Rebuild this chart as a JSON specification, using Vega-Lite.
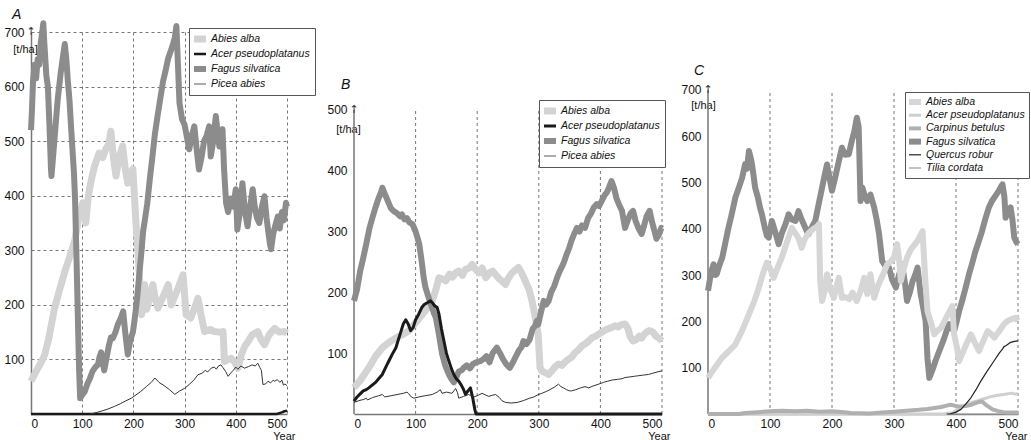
{
  "$schema": "https://vega.github.io/schema/vega-lite/v6.json",
  "background": "white",
  "padding": {"left": 3, "top": 8, "right": 0, "bottom": 0},
  "spacing": 10,
  "resolve": {"scale": {"color": "independent", "x": "independent", "y": "independent"}, "legend": {"color": "independent"}},
  "config": {
    "font": "Liberation Sans",
    "view": {"stroke": null},
    "axis": {"labelFont": "Liberation Sans", "labelFontSize": 12, "labelColor": "#111", "domainColor": "#777", "domainWidth": 1.5, "ticks": false, "gridColor": "#777", "gridDash": [3, 3], "gridWidth": 1, "titleFont": "Liberation Sans", "titleFontSize": 11, "titleFontWeight": "normal", "titleColor": "#111"},
    "legend": {"title": null, "orient": "none", "symbolSize": 144, "fillColor": "white", "strokeColor": "#555", "padding": 5, "labelFont": "Liberation Sans", "labelFontStyle": "italic", "labelFontSize": 10.5, "labelColor": "#111", "labelOffset": 5, "rowPadding": 3},
    "title": {"font": "Liberation Sans", "fontStyle": "italic", "fontWeight": "normal", "fontSize": 14, "anchor": "start", "frame": "group", "color": "#111"}
  },
  "datasets": {
    "grid": [{"g": 100}, {"g": 200}, {"g": 300}, {"g": 400}, {"g": 500}],
    "A": [
      {"s":"Abies alba","t":0,"v":60},{"s":"Abies alba","t":10,"v":78},{"s":"Abies alba","t":20,"v":95},{"s":"Abies alba","t":27,"v":109},{"s":"Abies alba","t":35,"v":140},{"s":"Abies alba","t":46,"v":194},{"s":"Abies alba","t":55,"v":225},{"s":"Abies alba","t":66,"v":261},{"s":"Abies alba","t":79,"v":298},{"s":"Abies alba","t":86,"v":320},{"s":"Abies alba","t":92,"v":353},{"s":"Abies alba","t":94,"v":362},{"s":"Abies alba","t":101,"v":387},{"s":"Abies alba","t":107,"v":350},{"s":"Abies alba","t":112,"v":400},{"s":"Abies alba","t":118,"v":430},{"s":"Abies alba","t":124,"v":454},{"s":"Abies alba","t":133,"v":478},{"s":"Abies alba","t":140,"v":470},{"s":"Abies alba","t":146,"v":485},{"s":"Abies alba","t":152,"v":495},{"s":"Abies alba","t":156,"v":518},{"s":"Abies alba","t":161,"v":470},{"s":"Abies alba","t":166,"v":436},{"s":"Abies alba","t":172,"v":470},{"s":"Abies alba","t":179,"v":491},{"s":"Abies alba","t":184,"v":450},{"s":"Abies alba","t":189,"v":423},{"s":"Abies alba","t":194,"v":440},{"s":"Abies alba","t":199,"v":449},{"s":"Abies alba","t":205,"v":350},{"s":"Abies alba","t":212,"v":252},{"s":"Abies alba","t":214,"v":192},{"s":"Abies alba","t":216,"v":182},{"s":"Abies alba","t":222,"v":237},{"s":"Abies alba","t":226,"v":192},{"s":"Abies alba","t":232,"v":215},{"s":"Abies alba","t":238,"v":237},{"s":"Abies alba","t":243,"v":210},{"s":"Abies alba","t":248,"v":194},{"s":"Abies alba","t":258,"v":215},{"s":"Abies alba","t":268,"v":237},{"s":"Abies alba","t":274,"v":200},{"s":"Abies alba","t":285,"v":225},{"s":"Abies alba","t":297,"v":255},{"s":"Abies alba","t":303,"v":182},{"s":"Abies alba","t":312,"v":176},{"s":"Abies alba","t":320,"v":195},{"s":"Abies alba","t":326,"v":212},{"s":"Abies alba","t":332,"v":182},{"s":"Abies alba","t":339,"v":151},{"s":"Abies alba","t":350,"v":155},{"s":"Abies alba","t":358,"v":151},{"s":"Abies alba","t":368,"v":150},{"s":"Abies alba","t":375,"v":151},{"s":"Abies alba","t":378,"v":96},{"s":"Abies alba","t":385,"v":100},{"s":"Abies alba","t":391,"v":102},{"s":"Abies alba","t":398,"v":95},{"s":"Abies alba","t":404,"v":84},{"s":"Abies alba","t":411,"v":109},{"s":"Abies alba","t":418,"v":125},{"s":"Abies alba","t":424,"v":133},{"s":"Abies alba","t":432,"v":145},{"s":"Abies alba","t":443,"v":151},{"s":"Abies alba","t":450,"v":135},{"s":"Abies alba","t":456,"v":127},{"s":"Abies alba","t":465,"v":145},{"s":"Abies alba","t":476,"v":157},{"s":"Abies alba","t":485,"v":150},{"s":"Abies alba","t":495,"v":151},{"s":"Abies alba","t":500,"v":148},
      {"s":"Fagus silvatica","t":0,"v":520},{"s":"Fagus silvatica","t":2,"v":560},{"s":"Fagus silvatica","t":4,"v":610},{"s":"Fagus silvatica","t":7,"v":640},{"s":"Fagus silvatica","t":10,"v":615},{"s":"Fagus silvatica","t":13,"v":650},{"s":"Fagus silvatica","t":16,"v":640},{"s":"Fagus silvatica","t":19,"v":680},{"s":"Fagus silvatica","t":22,"v":700},{"s":"Fagus silvatica","t":24,"v":716},{"s":"Fagus silvatica","t":26,"v":680},{"s":"Fagus silvatica","t":28,"v":650},{"s":"Fagus silvatica","t":30,"v":620},{"s":"Fagus silvatica","t":33,"v":600},{"s":"Fagus silvatica","t":36,"v":530},{"s":"Fagus silvatica","t":39,"v":450},{"s":"Fagus silvatica","t":40,"v":436},{"s":"Fagus silvatica","t":43,"v":470},{"s":"Fagus silvatica","t":46,"v":505},{"s":"Fagus silvatica","t":49,"v":540},{"s":"Fagus silvatica","t":52,"v":575},{"s":"Fagus silvatica","t":55,"v":600},{"s":"Fagus silvatica","t":58,"v":625},{"s":"Fagus silvatica","t":61,"v":645},{"s":"Fagus silvatica","t":64,"v":665},{"s":"Fagus silvatica","t":66,"v":678},{"s":"Fagus silvatica","t":69,"v":650},{"s":"Fagus silvatica","t":72,"v":610},{"s":"Fagus silvatica","t":75,"v":577},{"s":"Fagus silvatica","t":78,"v":530},{"s":"Fagus silvatica","t":81,"v":485},{"s":"Fagus silvatica","t":84,"v":440},{"s":"Fagus silvatica","t":86,"v":395},{"s":"Fagus silvatica","t":88,"v":320},{"s":"Fagus silvatica","t":90,"v":240},{"s":"Fagus silvatica","t":92,"v":157},{"s":"Fagus silvatica","t":94,"v":80},{"s":"Fagus silvatica","t":96,"v":29},{"s":"Fagus silvatica","t":100,"v":35},{"s":"Fagus silvatica","t":105,"v":41},{"s":"Fagus silvatica","t":110,"v":55},{"s":"Fagus silvatica","t":115,"v":65},{"s":"Fagus silvatica","t":120,"v":78},{"s":"Fagus silvatica","t":125,"v":85},{"s":"Fagus silvatica","t":131,"v":91},{"s":"Fagus silvatica","t":134,"v":105},{"s":"Fagus silvatica","t":137,"v":113},{"s":"Fagus silvatica","t":140,"v":95},{"s":"Fagus silvatica","t":143,"v":80},{"s":"Fagus silvatica","t":147,"v":100},{"s":"Fagus silvatica","t":152,"v":125},{"s":"Fagus silvatica","t":156,"v":140},{"s":"Fagus silvatica","t":160,"v":139},{"s":"Fagus silvatica","t":165,"v":150},{"s":"Fagus silvatica","t":170,"v":165},{"s":"Fagus silvatica","t":175,"v":175},{"s":"Fagus silvatica","t":180,"v":188},{"s":"Fagus silvatica","t":184,"v":150},{"s":"Fagus silvatica","t":189,"v":109},{"s":"Fagus silvatica","t":194,"v":135},{"s":"Fagus silvatica","t":199,"v":150},{"s":"Fagus silvatica","t":202,"v":170},{"s":"Fagus silvatica","t":207,"v":210},{"s":"Fagus silvatica","t":212,"v":261},{"s":"Fagus silvatica","t":216,"v":300},{"s":"Fagus silvatica","t":219,"v":335},{"s":"Fagus silvatica","t":222,"v":353},{"s":"Fagus silvatica","t":227,"v":385},{"s":"Fagus silvatica","t":232,"v":430},{"s":"Fagus silvatica","t":237,"v":470},{"s":"Fagus silvatica","t":242,"v":513},{"s":"Fagus silvatica","t":247,"v":545},{"s":"Fagus silvatica","t":252,"v":575},{"s":"Fagus silvatica","t":258,"v":610},{"s":"Fagus silvatica","t":263,"v":630},{"s":"Fagus silvatica","t":268,"v":652},{"s":"Fagus silvatica","t":273,"v":665},{"s":"Fagus silvatica","t":278,"v":680},{"s":"Fagus silvatica","t":281,"v":690},{"s":"Fagus silvatica","t":284,"v":711},{"s":"Fagus silvatica","t":287,"v":640},{"s":"Fagus silvatica","t":290,"v":570},{"s":"Fagus silvatica","t":295,"v":540},{"s":"Fagus silvatica","t":300,"v":530},{"s":"Fagus silvatica","t":305,"v":505},{"s":"Fagus silvatica","t":309,"v":485},{"s":"Fagus silvatica","t":314,"v":510},{"s":"Fagus silvatica","t":319,"v":527},{"s":"Fagus silvatica","t":323,"v":490},{"s":"Fagus silvatica","t":328,"v":448},{"s":"Fagus silvatica","t":333,"v":470},{"s":"Fagus silvatica","t":338,"v":500},{"s":"Fagus silvatica","t":343,"v":510},{"s":"Fagus silvatica","t":348,"v":527},{"s":"Fagus silvatica","t":351,"v":472},{"s":"Fagus silvatica","t":356,"v":500},{"s":"Fagus silvatica","t":361,"v":546},{"s":"Fagus silvatica","t":365,"v":510},{"s":"Fagus silvatica","t":368,"v":490},{"s":"Fagus silvatica","t":371,"v":505},{"s":"Fagus silvatica","t":374,"v":522},{"s":"Fagus silvatica","t":377,"v":450},{"s":"Fagus silvatica","t":381,"v":387},{"s":"Fagus silvatica","t":385,"v":370},{"s":"Fagus silvatica","t":390,"v":395},{"s":"Fagus silvatica","t":395,"v":380},{"s":"Fagus silvatica","t":400,"v":412},{"s":"Fagus silvatica","t":403,"v":338},{"s":"Fagus silvatica","t":408,"v":370},{"s":"Fagus silvatica","t":413,"v":423},{"s":"Fagus silvatica","t":418,"v":370},{"s":"Fagus silvatica","t":423,"v":344},{"s":"Fagus silvatica","t":428,"v":380},{"s":"Fagus silvatica","t":433,"v":412},{"s":"Fagus silvatica","t":437,"v":380},{"s":"Fagus silvatica","t":441,"v":360},{"s":"Fagus silvatica","t":446,"v":350},{"s":"Fagus silvatica","t":451,"v":380},{"s":"Fagus silvatica","t":456,"v":399},{"s":"Fagus silvatica","t":460,"v":360},{"s":"Fagus silvatica","t":464,"v":330},{"s":"Fagus silvatica","t":467,"v":310},{"s":"Fagus silvatica","t":469,"v":302},{"s":"Fagus silvatica","t":473,"v":330},{"s":"Fagus silvatica","t":477,"v":345},{"s":"Fagus silvatica","t":482,"v":362},{"s":"Fagus silvatica","t":486,"v":340},{"s":"Fagus silvatica","t":490,"v":370},{"s":"Fagus silvatica","t":494,"v":355},{"s":"Fagus silvatica","t":498,"v":387},{"s":"Fagus silvatica","t":500,"v":380},
      {"s":"Acer pseudoplatanus","t":0,"v":0},{"s":"Acer pseudoplatanus","t":480,"v":0},{"s":"Acer pseudoplatanus","t":490,"v":3},{"s":"Acer pseudoplatanus","t":495,"v":5},{"s":"Acer pseudoplatanus","t":500,"v":6},
      {"s":"Picea abies","t":115,"v":0},{"s":"Picea abies","t":125,"v":2},{"s":"Picea abies","t":140,"v":6},{"s":"Picea abies","t":150,"v":9},{"s":"Picea abies","t":163,"v":14},{"s":"Picea abies","t":175,"v":19},{"s":"Picea abies","t":185,"v":24},{"s":"Picea abies","t":196,"v":29},{"s":"Picea abies","t":205,"v":35},{"s":"Picea abies","t":214,"v":41},{"s":"Picea abies","t":225,"v":50},{"s":"Picea abies","t":235,"v":58},{"s":"Picea abies","t":242,"v":66},{"s":"Picea abies","t":250,"v":58},{"s":"Picea abies","t":260,"v":52},{"s":"Picea abies","t":270,"v":45},{"s":"Picea abies","t":281,"v":36},{"s":"Picea abies","t":290,"v":42},{"s":"Picea abies","t":300,"v":47},{"s":"Picea abies","t":310,"v":55},{"s":"Picea abies","t":318,"v":62},{"s":"Picea abies","t":326,"v":72},{"s":"Picea abies","t":335,"v":75},{"s":"Picea abies","t":340,"v":80},{"s":"Picea abies","t":345,"v":77},{"s":"Picea abies","t":352,"v":84},{"s":"Picea abies","t":358,"v":86},{"s":"Picea abies","t":362,"v":82},{"s":"Picea abies","t":366,"v":88},{"s":"Picea abies","t":371,"v":90},{"s":"Picea abies","t":375,"v":85},{"s":"Picea abies","t":380,"v":78},{"s":"Picea abies","t":385,"v":69},{"s":"Picea abies","t":390,"v":75},{"s":"Picea abies","t":395,"v":80},{"s":"Picea abies","t":400,"v":86},{"s":"Picea abies","t":404,"v":82},{"s":"Picea abies","t":410,"v":88},{"s":"Picea abies","t":417,"v":84},{"s":"Picea abies","t":425,"v":87},{"s":"Picea abies","t":432,"v":90},{"s":"Picea abies","t":438,"v":88},{"s":"Picea abies","t":443,"v":93},{"s":"Picea abies","t":447,"v":85},{"s":"Picea abies","t":450,"v":80},{"s":"Picea abies","t":453,"v":54},{"s":"Picea abies","t":458,"v":55},{"s":"Picea abies","t":463,"v":60},{"s":"Picea abies","t":468,"v":57},{"s":"Picea abies","t":473,"v":62},{"s":"Picea abies","t":476,"v":60},{"s":"Picea abies","t":481,"v":63},{"s":"Picea abies","t":486,"v":58},{"s":"Picea abies","t":490,"v":62},{"s":"Picea abies","t":493,"v":53},{"s":"Picea abies","t":496,"v":55},{"s":"Picea abies","t":500,"v":52}
    ],
    "B": [
      {"s":"Abies alba","t":0,"v":43},{"s":"Abies alba","t":10,"v":55},{"s":"Abies alba","t":24,"v":76},{"s":"Abies alba","t":35,"v":95},{"s":"Abies alba","t":46,"v":109},{"s":"Abies alba","t":57,"v":118},{"s":"Abies alba","t":68,"v":125},{"s":"Abies alba","t":78,"v":130},{"s":"Abies alba","t":89,"v":137},{"s":"Abies alba","t":100,"v":150},{"s":"Abies alba","t":111,"v":164},{"s":"Abies alba","t":120,"v":175},{"s":"Abies alba","t":127,"v":186},{"s":"Abies alba","t":133,"v":205},{"s":"Abies alba","t":138,"v":224},{"s":"Abies alba","t":143,"v":222},{"s":"Abies alba","t":149,"v":219},{"s":"Abies alba","t":155,"v":230},{"s":"Abies alba","t":160,"v":225},{"s":"Abies alba","t":165,"v":232},{"s":"Abies alba","t":170,"v":235},{"s":"Abies alba","t":176,"v":228},{"s":"Abies alba","t":181,"v":238},{"s":"Abies alba","t":187,"v":240},{"s":"Abies alba","t":192,"v":246},{"s":"Abies alba","t":197,"v":238},{"s":"Abies alba","t":203,"v":232},{"s":"Abies alba","t":208,"v":240},{"s":"Abies alba","t":214,"v":224},{"s":"Abies alba","t":220,"v":232},{"s":"Abies alba","t":225,"v":235},{"s":"Abies alba","t":230,"v":229},{"s":"Abies alba","t":236,"v":222},{"s":"Abies alba","t":241,"v":218},{"s":"Abies alba","t":246,"v":213},{"s":"Abies alba","t":250,"v":222},{"s":"Abies alba","t":255,"v":230},{"s":"Abies alba","t":261,"v":236},{"s":"Abies alba","t":267,"v":241},{"s":"Abies alba","t":272,"v":232},{"s":"Abies alba","t":278,"v":219},{"s":"Abies alba","t":284,"v":205},{"s":"Abies alba","t":289,"v":186},{"s":"Abies alba","t":294,"v":160},{"s":"Abies alba","t":299,"v":131},{"s":"Abies alba","t":302,"v":76},{"s":"Abies alba","t":306,"v":70},{"s":"Abies alba","t":311,"v":68},{"s":"Abies alba","t":316,"v":65},{"s":"Abies alba","t":322,"v":72},{"s":"Abies alba","t":327,"v":78},{"s":"Abies alba","t":332,"v":82},{"s":"Abies alba","t":338,"v":80},{"s":"Abies alba","t":343,"v":86},{"s":"Abies alba","t":348,"v":90},{"s":"Abies alba","t":353,"v":93},{"s":"Abies alba","t":358,"v":100},{"s":"Abies alba","t":364,"v":105},{"s":"Abies alba","t":370,"v":112},{"s":"Abies alba","t":375,"v":115},{"s":"Abies alba","t":381,"v":120},{"s":"Abies alba","t":386,"v":125},{"s":"Abies alba","t":392,"v":128},{"s":"Abies alba","t":397,"v":131},{"s":"Abies alba","t":403,"v":135},{"s":"Abies alba","t":408,"v":138},{"s":"Abies alba","t":413,"v":140},{"s":"Abies alba","t":418,"v":142},{"s":"Abies alba","t":424,"v":145},{"s":"Abies alba","t":429,"v":143},{"s":"Abies alba","t":434,"v":147},{"s":"Abies alba","t":440,"v":148},{"s":"Abies alba","t":445,"v":140},{"s":"Abies alba","t":448,"v":128},{"s":"Abies alba","t":453,"v":120},{"s":"Abies alba","t":458,"v":122},{"s":"Abies alba","t":463,"v":128},{"s":"Abies alba","t":467,"v":125},{"s":"Abies alba","t":472,"v":132},{"s":"Abies alba","t":477,"v":136},{"s":"Abies alba","t":480,"v":137},{"s":"Abies alba","t":485,"v":135},{"s":"Abies alba","t":490,"v":128},{"s":"Abies alba","t":495,"v":125},{"s":"Abies alba","t":500,"v":120},
      {"s":"Fagus silvatica","t":0,"v":186},{"s":"Fagus silvatica","t":5,"v":205},{"s":"Fagus silvatica","t":10,"v":235},{"s":"Fagus silvatica","t":14,"v":252},{"s":"Fagus silvatica","t":20,"v":280},{"s":"Fagus silvatica","t":25,"v":305},{"s":"Fagus silvatica","t":30,"v":323},{"s":"Fagus silvatica","t":35,"v":340},{"s":"Fagus silvatica","t":40,"v":355},{"s":"Fagus silvatica","t":44,"v":365},{"s":"Fagus silvatica","t":46,"v":372},{"s":"Fagus silvatica","t":50,"v":362},{"s":"Fagus silvatica","t":55,"v":350},{"s":"Fagus silvatica","t":60,"v":338},{"s":"Fagus silvatica","t":65,"v":333},{"s":"Fagus silvatica","t":70,"v":330},{"s":"Fagus silvatica","t":75,"v":325},{"s":"Fagus silvatica","t":78,"v":328},{"s":"Fagus silvatica","t":82,"v":320},{"s":"Fagus silvatica","t":86,"v":322},{"s":"Fagus silvatica","t":90,"v":315},{"s":"Fagus silvatica","t":95,"v":312},{"s":"Fagus silvatica","t":100,"v":300},{"s":"Fagus silvatica","t":103,"v":290},{"s":"Fagus silvatica","t":106,"v":279},{"s":"Fagus silvatica","t":110,"v":250},{"s":"Fagus silvatica","t":113,"v":225},{"s":"Fagus silvatica","t":116,"v":208},{"s":"Fagus silvatica","t":120,"v":195},{"s":"Fagus silvatica","t":125,"v":180},{"s":"Fagus silvatica","t":130,"v":165},{"s":"Fagus silvatica","t":133,"v":158},{"s":"Fagus silvatica","t":138,"v":130},{"s":"Fagus silvatica","t":143,"v":99},{"s":"Fagus silvatica","t":148,"v":80},{"s":"Fagus silvatica","t":154,"v":65},{"s":"Fagus silvatica","t":158,"v":58},{"s":"Fagus silvatica","t":162,"v":52},{"s":"Fagus silvatica","t":166,"v":60},{"s":"Fagus silvatica","t":170,"v":70},{"s":"Fagus silvatica","t":175,"v":72},{"s":"Fagus silvatica","t":178,"v":76},{"s":"Fagus silvatica","t":183,"v":80},{"s":"Fagus silvatica","t":188,"v":75},{"s":"Fagus silvatica","t":193,"v":82},{"s":"Fagus silvatica","t":198,"v":85},{"s":"Fagus silvatica","t":205,"v":87},{"s":"Fagus silvatica","t":210,"v":90},{"s":"Fagus silvatica","t":215,"v":95},{"s":"Fagus silvatica","t":220,"v":85},{"s":"Fagus silvatica","t":225,"v":100},{"s":"Fagus silvatica","t":232,"v":109},{"s":"Fagus silvatica","t":237,"v":100},{"s":"Fagus silvatica","t":242,"v":90},{"s":"Fagus silvatica","t":247,"v":82},{"s":"Fagus silvatica","t":253,"v":76},{"s":"Fagus silvatica","t":258,"v":85},{"s":"Fagus silvatica","t":263,"v":95},{"s":"Fagus silvatica","t":268,"v":105},{"s":"Fagus silvatica","t":272,"v":110},{"s":"Fagus silvatica","t":275,"v":120},{"s":"Fagus silvatica","t":280,"v":115},{"s":"Fagus silvatica","t":285,"v":122},{"s":"Fagus silvatica","t":290,"v":140},{"s":"Fagus silvatica","t":294,"v":145},{"s":"Fagus silvatica","t":297,"v":153},{"s":"Fagus silvatica","t":299,"v":147},{"s":"Fagus silvatica","t":303,"v":165},{"s":"Fagus silvatica","t":308,"v":186},{"s":"Fagus silvatica","t":312,"v":180},{"s":"Fagus silvatica","t":316,"v":186},{"s":"Fagus silvatica","t":320,"v":200},{"s":"Fagus silvatica","t":325,"v":210},{"s":"Fagus silvatica","t":330,"v":225},{"s":"Fagus silvatica","t":334,"v":235},{"s":"Fagus silvatica","t":337,"v":241},{"s":"Fagus silvatica","t":341,"v":250},{"s":"Fagus silvatica","t":345,"v":262},{"s":"Fagus silvatica","t":349,"v":272},{"s":"Fagus silvatica","t":353,"v":285},{"s":"Fagus silvatica","t":357,"v":295},{"s":"Fagus silvatica","t":362,"v":306},{"s":"Fagus silvatica","t":366,"v":300},{"s":"Fagus silvatica","t":370,"v":310},{"s":"Fagus silvatica","t":375,"v":306},{"s":"Fagus silvatica","t":380,"v":322},{"s":"Fagus silvatica","t":385,"v":330},{"s":"Fagus silvatica","t":389,"v":339},{"s":"Fagus silvatica","t":394,"v":345},{"s":"Fagus silvatica","t":398,"v":342},{"s":"Fagus silvatica","t":402,"v":350},{"s":"Fagus silvatica","t":407,"v":360},{"s":"Fagus silvatica","t":411,"v":365},{"s":"Fagus silvatica","t":415,"v":375},{"s":"Fagus silvatica","t":418,"v":383},{"s":"Fagus silvatica","t":422,"v":372},{"s":"Fagus silvatica","t":426,"v":355},{"s":"Fagus silvatica","t":430,"v":345},{"s":"Fagus silvatica","t":435,"v":334},{"s":"Fagus silvatica","t":440,"v":306},{"s":"Fagus silvatica","t":445,"v":320},{"s":"Fagus silvatica","t":449,"v":330},{"s":"Fagus silvatica","t":453,"v":334},{"s":"Fagus silvatica","t":457,"v":318},{"s":"Fagus silvatica","t":462,"v":305},{"s":"Fagus silvatica","t":467,"v":296},{"s":"Fagus silvatica","t":471,"v":310},{"s":"Fagus silvatica","t":475,"v":325},{"s":"Fagus silvatica","t":480,"v":334},{"s":"Fagus silvatica","t":484,"v":315},{"s":"Fagus silvatica","t":488,"v":300},{"s":"Fagus silvatica","t":491,"v":288},{"s":"Fagus silvatica","t":495,"v":295},{"s":"Fagus silvatica","t":499,"v":306},{"s":"Fagus silvatica","t":500,"v":305},
      {"s":"Acer pseudoplatanus","t":0,"v":21},{"s":"Acer pseudoplatanus","t":5,"v":28},{"s":"Acer pseudoplatanus","t":10,"v":33},{"s":"Acer pseudoplatanus","t":15,"v":38},{"s":"Acer pseudoplatanus","t":20,"v":40},{"s":"Acer pseudoplatanus","t":24,"v":43},{"s":"Acer pseudoplatanus","t":30,"v":48},{"s":"Acer pseudoplatanus","t":35,"v":52},{"s":"Acer pseudoplatanus","t":40,"v":58},{"s":"Acer pseudoplatanus","t":46,"v":65},{"s":"Acer pseudoplatanus","t":52,"v":78},{"s":"Acer pseudoplatanus","t":57,"v":88},{"s":"Acer pseudoplatanus","t":62,"v":98},{"s":"Acer pseudoplatanus","t":68,"v":109},{"s":"Acer pseudoplatanus","t":72,"v":122},{"s":"Acer pseudoplatanus","t":76,"v":135},{"s":"Acer pseudoplatanus","t":80,"v":148},{"s":"Acer pseudoplatanus","t":84,"v":155},{"s":"Acer pseudoplatanus","t":88,"v":148},{"s":"Acer pseudoplatanus","t":92,"v":137},{"s":"Acer pseudoplatanus","t":96,"v":142},{"s":"Acer pseudoplatanus","t":100,"v":155},{"s":"Acer pseudoplatanus","t":105,"v":164},{"s":"Acer pseudoplatanus","t":110,"v":175},{"s":"Acer pseudoplatanus","t":114,"v":180},{"s":"Acer pseudoplatanus","t":119,"v":183},{"s":"Acer pseudoplatanus","t":124,"v":186},{"s":"Acer pseudoplatanus","t":128,"v":182},{"s":"Acer pseudoplatanus","t":131,"v":178},{"s":"Acer pseudoplatanus","t":135,"v":175},{"s":"Acer pseudoplatanus","t":138,"v":164},{"s":"Acer pseudoplatanus","t":142,"v":140},{"s":"Acer pseudoplatanus","t":146,"v":120},{"s":"Acer pseudoplatanus","t":150,"v":100},{"s":"Acer pseudoplatanus","t":154,"v":87},{"s":"Acer pseudoplatanus","t":158,"v":75},{"s":"Acer pseudoplatanus","t":162,"v":65},{"s":"Acer pseudoplatanus","t":166,"v":58},{"s":"Acer pseudoplatanus","t":170,"v":54},{"s":"Acer pseudoplatanus","t":174,"v":48},{"s":"Acer pseudoplatanus","t":178,"v":40},{"s":"Acer pseudoplatanus","t":181,"v":32},{"s":"Acer pseudoplatanus","t":185,"v":38},{"s":"Acer pseudoplatanus","t":189,"v":43},{"s":"Acer pseudoplatanus","t":193,"v":25},{"s":"Acer pseudoplatanus","t":196,"v":8},{"s":"Acer pseudoplatanus","t":198,"v":0},{"s":"Acer pseudoplatanus","t":500,"v":0},
      {"s":"Picea abies","t":0,"v":19},{"s":"Picea abies","t":8,"v":22},{"s":"Picea abies","t":16,"v":24},{"s":"Picea abies","t":20,"v":26},{"s":"Picea abies","t":22,"v":23},{"s":"Picea abies","t":30,"v":27},{"s":"Picea abies","t":40,"v":30},{"s":"Picea abies","t":46,"v":32},{"s":"Picea abies","t":50,"v":28},{"s":"Picea abies","t":60,"v":30},{"s":"Picea abies","t":70,"v":32},{"s":"Picea abies","t":80,"v":34},{"s":"Picea abies","t":86,"v":36},{"s":"Picea abies","t":89,"v":33},{"s":"Picea abies","t":93,"v":28},{"s":"Picea abies","t":97,"v":26},{"s":"Picea abies","t":105,"v":28},{"s":"Picea abies","t":115,"v":30},{"s":"Picea abies","t":127,"v":32},{"s":"Picea abies","t":135,"v":36},{"s":"Picea abies","t":140,"v":40},{"s":"Picea abies","t":143,"v":34},{"s":"Picea abies","t":150,"v":36},{"s":"Picea abies","t":159,"v":34},{"s":"Picea abies","t":165,"v":42},{"s":"Picea abies","t":168,"v":35},{"s":"Picea abies","t":170,"v":26},{"s":"Picea abies","t":178,"v":29},{"s":"Picea abies","t":186,"v":32},{"s":"Picea abies","t":195,"v":28},{"s":"Picea abies","t":202,"v":31},{"s":"Picea abies","t":208,"v":34},{"s":"Picea abies","t":214,"v":31},{"s":"Picea abies","t":219,"v":29},{"s":"Picea abies","t":225,"v":31},{"s":"Picea abies","t":230,"v":32},{"s":"Picea abies","t":236,"v":27},{"s":"Picea abies","t":240,"v":22},{"s":"Picea abies","t":246,"v":19},{"s":"Picea abies","t":255,"v":18},{"s":"Picea abies","t":265,"v":19},{"s":"Picea abies","t":275,"v":22},{"s":"Picea abies","t":285,"v":26},{"s":"Picea abies","t":292,"v":28},{"s":"Picea abies","t":299,"v":32},{"s":"Picea abies","t":305,"v":34},{"s":"Picea abies","t":312,"v":37},{"s":"Picea abies","t":318,"v":40},{"s":"Picea abies","t":325,"v":44},{"s":"Picea abies","t":332,"v":49},{"s":"Picea abies","t":336,"v":45},{"s":"Picea abies","t":340,"v":43},{"s":"Picea abies","t":345,"v":40},{"s":"Picea abies","t":350,"v":38},{"s":"Picea abies","t":353,"v":38},{"s":"Picea abies","t":360,"v":40},{"s":"Picea abies","t":368,"v":43},{"s":"Picea abies","t":375,"v":45},{"s":"Picea abies","t":381,"v":43},{"s":"Picea abies","t":388,"v":46},{"s":"Picea abies","t":397,"v":49},{"s":"Picea abies","t":405,"v":52},{"s":"Picea abies","t":412,"v":54},{"s":"Picea abies","t":420,"v":56},{"s":"Picea abies","t":428,"v":57},{"s":"Picea abies","t":435,"v":58},{"s":"Picea abies","t":440,"v":60},{"s":"Picea abies","t":448,"v":61},{"s":"Picea abies","t":455,"v":62},{"s":"Picea abies","t":462,"v":63},{"s":"Picea abies","t":470,"v":64},{"s":"Picea abies","t":478,"v":65},{"s":"Picea abies","t":485,"v":67},{"s":"Picea abies","t":492,"v":69},{"s":"Picea abies","t":500,"v":71}
    ],
    "C": [
      {"s":"Fagus silvatica","t":0,"v":266},{"s":"Fagus silvatica","t":3,"v":290},{"s":"Fagus silvatica","t":6,"v":310},{"s":"Fagus silvatica","t":9,"v":323},{"s":"Fagus silvatica","t":12,"v":300},{"s":"Fagus silvatica","t":14,"v":302},{"s":"Fagus silvatica","t":18,"v":320},{"s":"Fagus silvatica","t":23,"v":338},{"s":"Fagus silvatica","t":28,"v":370},{"s":"Fagus silvatica","t":33,"v":402},{"s":"Fagus silvatica","t":38,"v":430},{"s":"Fagus silvatica","t":44,"v":467},{"s":"Fagus silvatica","t":50,"v":490},{"s":"Fagus silvatica","t":55,"v":510},{"s":"Fagus silvatica","t":60,"v":540},{"s":"Fagus silvatica","t":63,"v":530},{"s":"Fagus silvatica","t":66,"v":568},{"s":"Fagus silvatica","t":70,"v":547},{"s":"Fagus silvatica","t":73,"v":520},{"s":"Fagus silvatica","t":76,"v":489},{"s":"Fagus silvatica","t":80,"v":470},{"s":"Fagus silvatica","t":84,"v":445},{"s":"Fagus silvatica","t":87,"v":431},{"s":"Fagus silvatica","t":92,"v":400},{"s":"Fagus silvatica","t":95,"v":385},{"s":"Fagus silvatica","t":98,"v":381},{"s":"Fagus silvatica","t":103,"v":417},{"s":"Fagus silvatica","t":108,"v":395},{"s":"Fagus silvatica","t":114,"v":367},{"s":"Fagus silvatica","t":119,"v":390},{"s":"Fagus silvatica","t":125,"v":410},{"s":"Fagus silvatica","t":130,"v":431},{"s":"Fagus silvatica","t":135,"v":420},{"s":"Fagus silvatica","t":141,"v":417},{"s":"Fagus silvatica","t":146,"v":438},{"s":"Fagus silvatica","t":151,"v":420},{"s":"Fagus silvatica","t":157,"v":402},{"s":"Fagus silvatica","t":162,"v":388},{"s":"Fagus silvatica","t":168,"v":405},{"s":"Fagus silvatica","t":173,"v":417},{"s":"Fagus silvatica","t":178,"v":450},{"s":"Fagus silvatica","t":184,"v":489},{"s":"Fagus silvatica","t":188,"v":515},{"s":"Fagus silvatica","t":192,"v":539},{"s":"Fagus silvatica","t":196,"v":510},{"s":"Fagus silvatica","t":200,"v":482},{"s":"Fagus silvatica","t":205,"v":510},{"s":"Fagus silvatica","t":211,"v":546},{"s":"Fagus silvatica","t":216,"v":575},{"s":"Fagus silvatica","t":221,"v":560},{"s":"Fagus silvatica","t":227,"v":561},{"s":"Fagus silvatica","t":232,"v":590},{"s":"Fagus silvatica","t":236,"v":610},{"s":"Fagus silvatica","t":240,"v":640},{"s":"Fagus silvatica","t":243,"v":620},{"s":"Fagus silvatica","t":246,"v":460},{"s":"Fagus silvatica","t":249,"v":489},{"s":"Fagus silvatica","t":253,"v":470},{"s":"Fagus silvatica","t":257,"v":460},{"s":"Fagus silvatica","t":262,"v":474},{"s":"Fagus silvatica","t":268,"v":446},{"s":"Fagus silvatica","t":272,"v":420},{"s":"Fagus silvatica","t":276,"v":388},{"s":"Fagus silvatica","t":281,"v":330},{"s":"Fagus silvatica","t":286,"v":320},{"s":"Fagus silvatica","t":292,"v":316},{"s":"Fagus silvatica","t":297,"v":290},{"s":"Fagus silvatica","t":303,"v":273},{"s":"Fagus silvatica","t":308,"v":300},{"s":"Fagus silvatica","t":313,"v":323},{"s":"Fagus silvatica","t":318,"v":280},{"s":"Fagus silvatica","t":321,"v":244},{"s":"Fagus silvatica","t":326,"v":265},{"s":"Fagus silvatica","t":330,"v":287},{"s":"Fagus silvatica","t":334,"v":300},{"s":"Fagus silvatica","t":338,"v":316},{"s":"Fagus silvatica","t":343,"v":259},{"s":"Fagus silvatica","t":347,"v":230},{"s":"Fagus silvatica","t":351,"v":201},{"s":"Fagus silvatica","t":354,"v":120},{"s":"Fagus silvatica","t":357,"v":78},{"s":"Fagus silvatica","t":362,"v":95},{"s":"Fagus silvatica","t":367,"v":115},{"s":"Fagus silvatica","t":373,"v":136},{"s":"Fagus silvatica","t":380,"v":160},{"s":"Fagus silvatica","t":385,"v":180},{"s":"Fagus silvatica","t":389,"v":194},{"s":"Fagus silvatica","t":393,"v":185},{"s":"Fagus silvatica","t":397,"v":179},{"s":"Fagus silvatica","t":401,"v":200},{"s":"Fagus silvatica","t":405,"v":222},{"s":"Fagus silvatica","t":410,"v":245},{"s":"Fagus silvatica","t":415,"v":270},{"s":"Fagus silvatica","t":421,"v":302},{"s":"Fagus silvatica","t":426,"v":325},{"s":"Fagus silvatica","t":431,"v":350},{"s":"Fagus silvatica","t":437,"v":374},{"s":"Fagus silvatica","t":442,"v":395},{"s":"Fagus silvatica","t":447,"v":420},{"s":"Fagus silvatica","t":453,"v":446},{"s":"Fagus silvatica","t":458,"v":460},{"s":"Fagus silvatica","t":463,"v":470},{"s":"Fagus silvatica","t":469,"v":482},{"s":"Fagus silvatica","t":473,"v":492},{"s":"Fagus silvatica","t":475,"v":496},{"s":"Fagus silvatica","t":478,"v":470},{"s":"Fagus silvatica","t":480,"v":424},{"s":"Fagus silvatica","t":484,"v":440},{"s":"Fagus silvatica","t":488,"v":446},{"s":"Fagus silvatica","t":491,"v":420},{"s":"Fagus silvatica","t":494,"v":381},{"s":"Fagus silvatica","t":497,"v":372},{"s":"Fagus silvatica","t":500,"v":367},
      {"s":"Abies alba","t":0,"v":78},{"s":"Abies alba","t":10,"v":98},{"s":"Abies alba","t":23,"v":122},{"s":"Abies alba","t":33,"v":135},{"s":"Abies alba","t":44,"v":150},{"s":"Abies alba","t":55,"v":180},{"s":"Abies alba","t":66,"v":215},{"s":"Abies alba","t":75,"v":245},{"s":"Abies alba","t":82,"v":273},{"s":"Abies alba","t":89,"v":305},{"s":"Abies alba","t":95,"v":327},{"s":"Abies alba","t":100,"v":315},{"s":"Abies alba","t":106,"v":294},{"s":"Abies alba","t":112,"v":315},{"s":"Abies alba","t":119,"v":338},{"s":"Abies alba","t":127,"v":370},{"s":"Abies alba","t":135,"v":402},{"s":"Abies alba","t":141,"v":390},{"s":"Abies alba","t":146,"v":380},{"s":"Abies alba","t":151,"v":359},{"s":"Abies alba","t":157,"v":380},{"s":"Abies alba","t":163,"v":392},{"s":"Abies alba","t":170,"v":400},{"s":"Abies alba","t":176,"v":405},{"s":"Abies alba","t":179,"v":410},{"s":"Abies alba","t":181,"v":287},{"s":"Abies alba","t":184,"v":244},{"s":"Abies alba","t":188,"v":265},{"s":"Abies alba","t":192,"v":302},{"s":"Abies alba","t":197,"v":270},{"s":"Abies alba","t":203,"v":251},{"s":"Abies alba","t":208,"v":280},{"s":"Abies alba","t":211,"v":294},{"s":"Abies alba","t":216,"v":251},{"s":"Abies alba","t":222,"v":252},{"s":"Abies alba","t":228,"v":248},{"s":"Abies alba","t":233,"v":262},{"s":"Abies alba","t":237,"v":251},{"s":"Abies alba","t":240,"v":244},{"s":"Abies alba","t":246,"v":265},{"s":"Abies alba","t":252,"v":294},{"s":"Abies alba","t":257,"v":259},{"s":"Abies alba","t":262,"v":302},{"s":"Abies alba","t":268,"v":251},{"s":"Abies alba","t":275,"v":280},{"s":"Abies alba","t":282,"v":300},{"s":"Abies alba","t":289,"v":323},{"s":"Abies alba","t":295,"v":330},{"s":"Abies alba","t":300,"v":338},{"s":"Abies alba","t":305,"v":367},{"s":"Abies alba","t":308,"v":338},{"s":"Abies alba","t":311,"v":287},{"s":"Abies alba","t":316,"v":315},{"s":"Abies alba","t":321,"v":338},{"s":"Abies alba","t":327,"v":355},{"s":"Abies alba","t":333,"v":365},{"s":"Abies alba","t":338,"v":374},{"s":"Abies alba","t":346,"v":395},{"s":"Abies alba","t":350,"v":300},{"s":"Abies alba","t":354,"v":222},{"s":"Abies alba","t":360,"v":195},{"s":"Abies alba","t":365,"v":172},{"s":"Abies alba","t":370,"v":180},{"s":"Abies alba","t":376,"v":186},{"s":"Abies alba","t":385,"v":210},{"s":"Abies alba","t":394,"v":233},{"s":"Abies alba","t":397,"v":172},{"s":"Abies alba","t":402,"v":140},{"s":"Abies alba","t":405,"v":114},{"s":"Abies alba","t":410,"v":130},{"s":"Abies alba","t":418,"v":155},{"s":"Abies alba","t":424,"v":172},{"s":"Abies alba","t":430,"v":155},{"s":"Abies alba","t":437,"v":136},{"s":"Abies alba","t":444,"v":158},{"s":"Abies alba","t":451,"v":179},{"s":"Abies alba","t":457,"v":172},{"s":"Abies alba","t":462,"v":165},{"s":"Abies alba","t":470,"v":180},{"s":"Abies alba","t":478,"v":195},{"s":"Abies alba","t":483,"v":201},{"s":"Abies alba","t":490,"v":205},{"s":"Abies alba","t":496,"v":208},{"s":"Abies alba","t":500,"v":201},
      {"s":"Tilia cordata","t":0,"v":0},{"s":"Tilia cordata","t":500,"v":0},
      {"s":"Acer pseudoplatanus","t":0,"v":0},{"s":"Acer pseudoplatanus","t":380,"v":0},{"s":"Acer pseudoplatanus","t":390,"v":2},{"s":"Acer pseudoplatanus","t":395,"v":3},{"s":"Acer pseudoplatanus","t":400,"v":8},{"s":"Acer pseudoplatanus","t":406,"v":14},{"s":"Acer pseudoplatanus","t":415,"v":20},{"s":"Acer pseudoplatanus","t":425,"v":25},{"s":"Acer pseudoplatanus","t":434,"v":28},{"s":"Acer pseudoplatanus","t":445,"v":33},{"s":"Acer pseudoplatanus","t":455,"v":37},{"s":"Acer pseudoplatanus","t":465,"v":40},{"s":"Acer pseudoplatanus","t":477,"v":42},{"s":"Acer pseudoplatanus","t":485,"v":44},{"s":"Acer pseudoplatanus","t":490,"v":45},{"s":"Acer pseudoplatanus","t":495,"v":43},{"s":"Acer pseudoplatanus","t":500,"v":44},
      {"s":"Carpinus betulus","t":0,"v":0},{"s":"Carpinus betulus","t":50,"v":0},{"s":"Carpinus betulus","t":60,"v":2},{"s":"Carpinus betulus","t":80,"v":4},{"s":"Carpinus betulus","t":100,"v":6},{"s":"Carpinus betulus","t":120,"v":7},{"s":"Carpinus betulus","t":140,"v":6},{"s":"Carpinus betulus","t":160,"v":7},{"s":"Carpinus betulus","t":180,"v":5},{"s":"Carpinus betulus","t":200,"v":6},{"s":"Carpinus betulus","t":220,"v":4},{"s":"Carpinus betulus","t":230,"v":2},{"s":"Carpinus betulus","t":260,"v":1},{"s":"Carpinus betulus","t":280,"v":3},{"s":"Carpinus betulus","t":300,"v":5},{"s":"Carpinus betulus","t":320,"v":7},{"s":"Carpinus betulus","t":340,"v":9},{"s":"Carpinus betulus","t":354,"v":11},{"s":"Carpinus betulus","t":365,"v":13},{"s":"Carpinus betulus","t":376,"v":15},{"s":"Carpinus betulus","t":385,"v":18},{"s":"Carpinus betulus","t":391,"v":20},{"s":"Carpinus betulus","t":398,"v":18},{"s":"Carpinus betulus","t":406,"v":16},{"s":"Carpinus betulus","t":415,"v":17},{"s":"Carpinus betulus","t":425,"v":20},{"s":"Carpinus betulus","t":437,"v":26},{"s":"Carpinus betulus","t":442,"v":27},{"s":"Carpinus betulus","t":450,"v":18},{"s":"Carpinus betulus","t":459,"v":10},{"s":"Carpinus betulus","t":468,"v":6},{"s":"Carpinus betulus","t":477,"v":4},{"s":"Carpinus betulus","t":490,"v":3},{"s":"Carpinus betulus","t":500,"v":3},
      {"s":"Quercus robur","t":385,"v":0},{"s":"Quercus robur","t":390,"v":0},{"s":"Quercus robur","t":395,"v":2},{"s":"Quercus robur","t":400,"v":4},{"s":"Quercus robur","t":408,"v":10},{"s":"Quercus robur","t":416,"v":22},{"s":"Quercus robur","t":424,"v":35},{"s":"Quercus robur","t":432,"v":52},{"s":"Quercus robur","t":440,"v":71},{"s":"Quercus robur","t":450,"v":92},{"s":"Quercus robur","t":461,"v":114},{"s":"Quercus robur","t":470,"v":132},{"s":"Quercus robur","t":475,"v":140},{"s":"Quercus robur","t":477,"v":145},{"s":"Quercus robur","t":481,"v":148},{"s":"Quercus robur","t":487,"v":154},{"s":"Quercus robur","t":494,"v":157},{"s":"Quercus robur","t":500,"v":158}
    ]
  },
  "hconcat": [
    {
      "width": 256, "height": 382,
      "title": {"text": "A", "dx": -19, "offset": -2},
      "layer": [
        {
          "data": {"name": "A"},
          "mark": {"type": "line", "strokeJoin": "round"},
          "encoding": {
            "x": {"field": "t", "type": "quantitative", "scale": {"domain": [0, 500], "nice": false},
                  "axis": {"values": [0, 100, 200, 300, 400, 500], "title": "Year", "titleAlign": "right", "titleAnchor": "end", "titleX": 264, "titleY": 25, "titleBaseline": "alphabetic", "labelPadding": 4, "gridOpacity": {"condition": {"test": "datum.value === 0", "value": 0}, "value": 1}}},
            "y": {"field": "v", "type": "quantitative", "scale": {"domain": [0, 700], "nice": false},
                  "axis": {"values": [100, 200, 300, 400, 500, 600, 700], "title": "[t/ha]", "titleAngle": 0, "titleAlign": "center", "titleBaseline": "middle", "titleX": -6, "titleY": 17, "labelPadding": 7}},
            "color": {"field": "s", "type": "nominal",
                      "scale": {"domain": ["Abies alba", "Acer pseudoplatanus", "Fagus silvatica", "Picea abies"], "range": ["#d3d3d3", "#1a1a1a", "#8c8c8c", "#333333"]},
                      "legend": {"legendX": 158, "legendY": -4, "encode": {"symbols": {"update": {
                        "shape": {"signal": "datum.value === 'Abies alba' ? 'M-1,-0.58H1V0.58H-1Z' : datum.value === 'Fagus silvatica' ? 'M-1,-0.5H1V0.5H-1Z' : datum.value === 'Acer pseudoplatanus' ? 'M-1,-0.21H1V0.21H-1Z' : 'M-1,-0.09H1V0.09H-1Z'"},
                        "fill": {"signal": "datum.value === 'Abies alba' ? '#d3d3d3' : datum.value === 'Fagus silvatica' ? '#8c8c8c' : datum.value === 'Acer pseudoplatanus' ? '#1a1a1a' : '#666666'"},
                        "fillOpacity": {"value": 1}, "strokeWidth": {"value": 0}}}}}},
            "strokeWidth": {"condition": [{"test": "datum.s === 'Abies alba'", "value": 7}, {"test": "datum.s === 'Fagus silvatica'", "value": 6}, {"test": "datum.s === 'Acer pseudoplatanus'", "value": 2.5}], "value": 1}
          }
        },
        {
          "data": {"values": [{}]},
          "mark": {"type": "text", "text": "↑", "font": "DejaVu Sans", "fontSize": 11, "baseline": "middle", "color": "#333"},
          "encoding": {"x": {"datum": 0}, "y": {"datum": 700}}
        }
      ]
    },
    {
      "width": 308, "height": 382,
      "title": {"text": "B", "dx": -13, "offset": -60},
      "layer": [
        {
          "data": {"name": "grid"},
          "mark": {"type": "rule", "strokeDash": [3, 3], "color": "#777", "strokeWidth": 1},
          "encoding": {"x": {"field": "g", "type": "quantitative"}, "y": {"datum": 0}, "y2": {"datum": 500}}
        },
        {
          "data": {"values": [{}]},
          "mark": {"type": "rule", "color": "#777", "strokeWidth": 1.5},
          "encoding": {"x": {"datum": 0}, "y": {"datum": 0}, "y2": {"datum": 500}}
        },
        {
          "data": {"name": "B"},
          "mark": {"type": "line", "strokeJoin": "round"},
          "encoding": {
            "x": {"field": "t", "type": "quantitative", "scale": {"domain": [0, 500], "nice": false},
                  "axis": {"values": [0, 100, 200, 300, 400, 500], "grid": false, "title": "Year", "titleAlign": "right", "titleAnchor": "end", "titleX": 316, "titleY": 25, "titleBaseline": "alphabetic", "labelPadding": 4}},
            "y": {"field": "v", "type": "quantitative", "scale": {"domain": [0, 628], "nice": false},
                  "axis": {"values": [100, 200, 300, 400, 500], "domain": false, "title": "[t/ha]", "titleAngle": 0, "titleAlign": "center", "titleBaseline": "middle", "titleX": -6, "titleY": 97, "labelPadding": 7}},
            "color": {"field": "s", "type": "nominal",
                      "scale": {"domain": ["Abies alba", "Acer pseudoplatanus", "Fagus silvatica", "Picea abies"], "range": ["#d3d3d3", "#1a1a1a", "#8c8c8c", "#333333"]},
                      "legend": {"legendX": 185, "legendY": 68, "encode": {"symbols": {"update": {
                        "shape": {"signal": "datum.value === 'Abies alba' ? 'M-1,-0.58H1V0.58H-1Z' : datum.value === 'Fagus silvatica' ? 'M-1,-0.5H1V0.5H-1Z' : datum.value === 'Acer pseudoplatanus' ? 'M-1,-0.25H1V0.25H-1Z' : 'M-1,-0.09H1V0.09H-1Z'"},
                        "fill": {"signal": "datum.value === 'Abies alba' ? '#d3d3d3' : datum.value === 'Fagus silvatica' ? '#8c8c8c' : datum.value === 'Acer pseudoplatanus' ? '#1a1a1a' : '#666666'"},
                        "fillOpacity": {"value": 1}, "strokeWidth": {"value": 0}}}}}},
            "strokeWidth": {"condition": [{"test": "datum.s === 'Abies alba'", "value": 7}, {"test": "datum.s === 'Fagus silvatica'", "value": 6}, {"test": "datum.s === 'Acer pseudoplatanus'", "value": 3}], "value": 1}
          }
        },
        {
          "data": {"values": [{}]},
          "mark": {"type": "text", "text": "↑", "font": "DejaVu Sans", "fontSize": 11, "baseline": "middle", "color": "#333"},
          "encoding": {"x": {"datum": 0}, "y": {"datum": 500}}
        }
      ]
    },
    {
      "width": 310, "height": 382,
      "title": {"text": "C", "dx": -14, "offset": -46},
      "layer": [
        {
          "data": {"name": "grid"},
          "mark": {"type": "rule", "strokeDash": [3, 3], "color": "#777", "strokeWidth": 1},
          "encoding": {"x": {"field": "g", "type": "quantitative"}, "y": {"datum": 0}, "y2": {"datum": 700}}
        },
        {
          "data": {"values": [{}]},
          "mark": {"type": "rule", "color": "#777", "strokeWidth": 1.5},
          "encoding": {"x": {"datum": 0}, "y": {"datum": 0}, "y2": {"datum": 700}}
        },
        {
          "data": {"name": "C"},
          "mark": {"type": "line", "strokeJoin": "round"},
          "encoding": {
            "x": {"field": "t", "type": "quantitative", "scale": {"domain": [0, 500], "nice": false},
                  "axis": {"values": [0, 100, 200, 300, 400, 500], "grid": false, "title": "Year", "titleAlign": "right", "titleAnchor": "end", "titleX": 319, "titleY": 25, "titleBaseline": "alphabetic", "labelPadding": 4}},
            "y": {"field": "v", "type": "quantitative", "scale": {"domain": [0, 825], "nice": false},
                  "axis": {"values": [100, 200, 300, 400, 500, 600, 700], "domain": false, "title": "[t/ha]", "titleAngle": 0, "titleAlign": "center", "titleBaseline": "middle", "titleX": -5, "titleY": 73, "labelPadding": 7}},
            "color": {"field": "s", "type": "nominal",
                      "scale": {"domain": ["Abies alba", "Acer pseudoplatanus", "Carpinus betulus", "Fagus silvatica", "Quercus robur", "Tilia cordata"], "range": ["#d6d6d6", "#cfcfcf", "#b0b0b0", "#8c8c8c", "#222222", "#999999"]},
                      "legend": {"legendX": 197, "legendY": 60, "rowPadding": 1.2, "padding": 4, "encode": {"symbols": {"update": {
                        "shape": {"signal": "datum.value === 'Abies alba' || datum.value === 'Fagus silvatica' ? 'M-1,-0.5H1V0.5H-1Z' : datum.value === 'Carpinus betulus' ? 'M-1,-0.33H1V0.33H-1Z' : datum.value === 'Acer pseudoplatanus' ? 'M-1,-0.25H1V0.25H-1Z' : 'M-1,-0.1H1V0.1H-1Z'"},
                        "fill": {"signal": "datum.value === 'Abies alba' ? '#d6d6d6' : datum.value === 'Fagus silvatica' ? '#8c8c8c' : datum.value === 'Carpinus betulus' ? '#b0b0b0' : datum.value === 'Acer pseudoplatanus' ? '#cfcfcf' : datum.value === 'Quercus robur' ? '#222222' : '#999999'"},
                        "fillOpacity": {"value": 1}, "strokeWidth": {"value": 0}}}}}},
            "strokeWidth": {"condition": [{"test": "datum.s === 'Abies alba'", "value": 6}, {"test": "datum.s === 'Fagus silvatica'", "value": 6}, {"test": "datum.s === 'Carpinus betulus'", "value": 4}, {"test": "datum.s === 'Acer pseudoplatanus'", "value": 3}, {"test": "datum.s === 'Quercus robur'", "value": 1.2}], "value": 1}
          }
        },
        {
          "data": {"values": [{}]},
          "mark": {"type": "text", "text": "↑", "font": "DejaVu Sans", "fontSize": 11, "baseline": "middle", "color": "#333"},
          "encoding": {"x": {"datum": 0}, "y": {"datum": 700}}
        }
      ]
    }
  ]
}
